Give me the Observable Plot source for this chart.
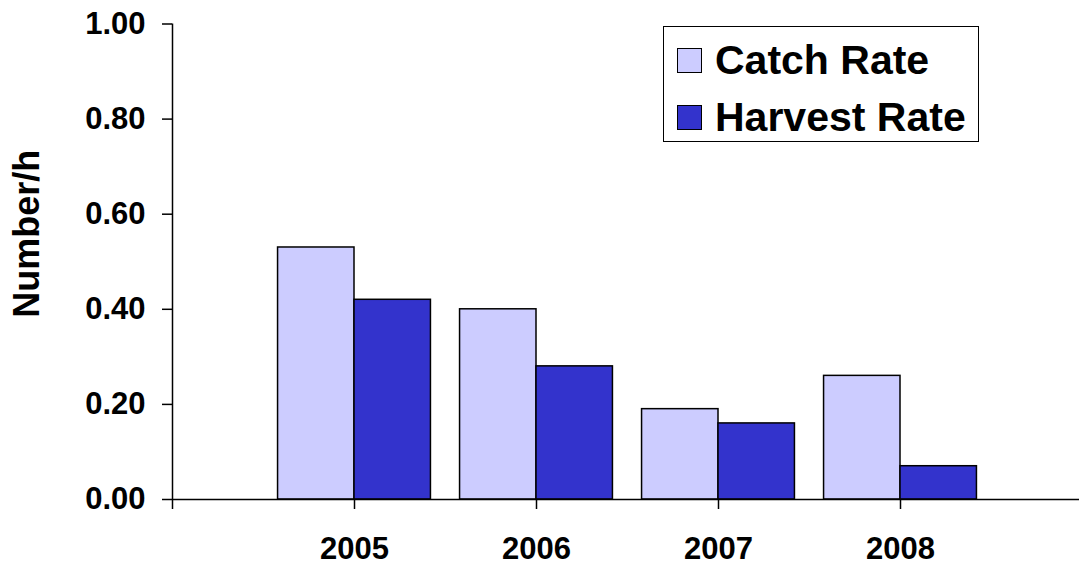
<!DOCTYPE html>
<html>
<head>
<meta charset="utf-8">
<script src="https://cdn.jsdelivr.net/npm/d3@7"></script>
<script src="https://cdn.jsdelivr.net/npm/@observablehq/plot@0.6"></script>
<style>
  html, body { margin: 0; padding: 0; background: #fff; }
  #wrap { position: relative; width: 1079px; height: 565px; }
  #legend {
    position: absolute; left: 663px; top: 26px; width: 314px; height: 114px;
    border: 1.5px solid #000; background: #fff;
    font-family: "Liberation Sans", Arial, sans-serif; font-weight: bold; font-size: 41px;
  }
  .item { position: absolute; left: 13px; height: 46px; display: flex; align-items: center; white-space: nowrap; }
  .sw { width: 23px; height: 23px; border: 1.5px solid #000; margin-right: 13px; }
</style>
</head>
<body>
<div id="wrap"></div>
<script>
const years = [2005, 2006, 2007, 2008];
const catchRate = [0.53, 0.40, 0.19, 0.26];
const harvestRate = [0.42, 0.28, 0.16, 0.07];
const seriesNames = ["Catch Rate", "Harvest Rate"];
const seriesColors = ["#CCCCFF", "#3333CC"];
const yTicks = [0, 0.2, 0.4, 0.6, 0.8, 1.0];
const xTicks = [2004, 2005, 2006, 2007, 2008];
const yLabel = "Number/h";

const barW = 0.42;
const rows = [];
years.forEach((yr, i) => {
  rows.push({year: yr, series: seriesNames[0], value: catchRate[i], x1: yr - barW, x2: yr});
  rows.push({year: yr, series: seriesNames[1], value: harvestRate[i], x1: yr, x2: yr + barW});
});

const chart = Plot.plot({
  width: 1079,
  height: 565,
  marginLeft: 172,
  marginRight: 0,
  marginTop: 23.5,
  marginBottom: 66,
  style: {fontFamily: "'Liberation Sans', Arial, sans-serif", fontWeight: "bold", fontSize: "31px", color: "#000", background: "#fff"},
  x: {domain: [2004, 2004 + 907 / 182], axis: null},
  y: {domain: [0, 1], axis: null},
  color: {domain: seriesNames, range: seriesColors},
  marks: [
    Plot.rectY(rows, {x1: "x1", x2: "x2", y: "value", fill: "series", stroke: "#000", strokeWidth: 1.5}),
    Plot.ruleX([2004], {y1: 0, y2: 1, stroke: "#000", strokeWidth: 1.5}),
    Plot.ruleY([0], {stroke: "#000", strokeWidth: 1.5}),
    Plot.axisY(yTicks, {tickSize: 10, tickPadding: 17, tickFormat: d3.format(".2f"), label: null, strokeWidth: 1.5, fontSize: 31}),
    Plot.axisX(xTicks, {tickSize: 10, tickPadding: 27, tickFormat: d => d === 2004 ? "" : String(d), label: null, strokeWidth: 1.5, fontSize: 31}),
    Plot.text([yLabel], {frameAnchor: "left", textAnchor: "middle", dx: -145, dy: -28, rotate: -90, fontSize: 36, fontWeight: "bold", fill: "#000"})
  ]
});
const wrap = document.getElementById("wrap");
wrap.appendChild(chart);

const legend = document.createElement("div");
legend.id = "legend";
seriesNames.forEach((name, i) => {
  const item = document.createElement("div");
  item.className = "item";
  item.style.top = (i === 0 ? 10 : 67) + "px";
  const sw = document.createElement("div");
  sw.className = "sw";
  sw.style.background = seriesColors[i];
  const t = document.createElement("span");
  t.textContent = name;
  item.appendChild(sw);
  item.appendChild(t);
  legend.appendChild(item);
});
wrap.appendChild(legend);
</script>
</body>
</html>
